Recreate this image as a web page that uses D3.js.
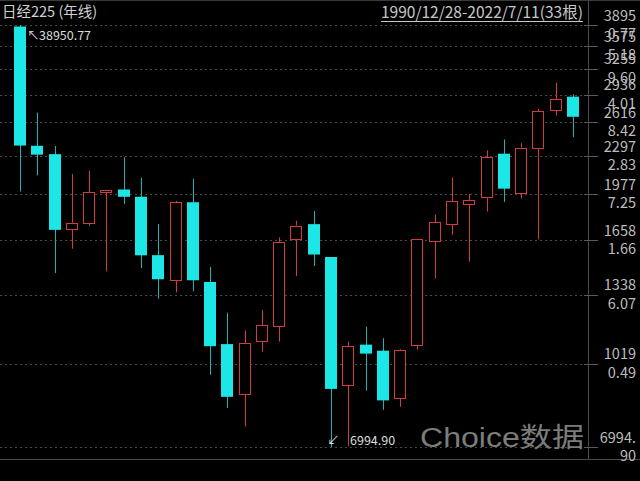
<!DOCTYPE html>
<html><head><meta charset="utf-8">
<script src="https://cdn.jsdelivr.net/npm/d3@7"></script>
<style>html,body{margin:0;padding:0;background:#000;}svg{display:block;}</style>
</head><body>
<svg id="chart" width="640" height="481"></svg>
<script>
// ---------- data ----------
const years = [1990,1991,1992,1993,1994,1995,1996,1997,1998,1999,2000,2001,2002,2003,2004,2005,2006,2007,2008,2009,2010,2011,2012,2013,2014,2015,2016,2017,2018,2019,2020,2021,2022];
const opens  = [38712.88,23827.98,23030.54,16980,17421,19724,19945,19364,15268,13779,18937,13691,10631,8669,10787,11458,16294,17322,15155,8991,10609,10352,8549,10604,16147,17325,18818,19364,23073,19655,23580,27575,29098];
const highs  = [38950.77,27270.19,23801.18,21242,21530,19900,22750,20910,17333,19036,20833,14556,12081,11238,12213,16420,17563,18275,15156,10738,11413,10891,10433,16320,18030,20952,19592,23382,24448,24091,27700,30795,29388];
const lows   = [19781.70,21123.27,14194.85,15670,17192,14295,18800,14488,12787,13122,13182,9382,8197,7603,10309,10738,14026,14609,6994.90,7021,8796,8135,8238,10398,13885,16592,14864,18224,18948,19241,16280,26954,24681];
const closes = [23848.71,22983.77,16924.95,17417.24,19723.06,19868.15,19361.35,15258.74,13842.17,18934.34,13785.69,10542.62,8578.95,10676.64,11488.76,16111.43,17225.83,15307.78,8859.56,10546.44,10228.92,8455.35,10395.18,16291.31,17450.77,19033.71,19114.37,22764.94,20014.77,23656.62,27444.17,28791.71,26812.30];
// right-axis labels (as printed) and the levels where their dotted grid lines sit
const tickLabels = [38950.77,35755.18,32559.60,29364.01,26168.42,22972.83,19777.25,16581.66,13386.07,10190.49,6994.90];
const gridLevels = [38950.77,35756,32621,29301,26206,22857,19579,16207,12985,9825,6994.90];
const titleText = "日经225 (年线)";
const rangeText = "1990/12/28-2022/7/11(33根)";
const watermarkText = "Choice数据";

// ---------- styling ----------
const W = 640, H = 481;
const FONT = "'Noto Sans CJK SC','Microsoft YaHei',sans-serif";
const UP = "#d23c3c", DOWN = "#1ce6e6", DOWN_WICK = "#1fb4b4";
const axisX = 588, plotBottom = 459;

const svg = d3.select("#chart");
svg.append("rect").attr("width", W).attr("height", H).attr("fill", "#000");

const x = d3.scaleBand().domain(years).range([11.4, 581.6]).paddingInner(0.3).paddingOuter(0.15);
const y = d3.scaleLog().domain([6994.90, 38950.77]).range([447, 25]);
const bw = Math.round(x.bandwidth());

// frame lines
svg.append("line").attr("x1", 0).attr("x2", W).attr("y1", 0.5).attr("y2", 0.5).attr("stroke", "#3a3a3a");
svg.append("line").attr("x1", axisX + 0.5).attr("x2", axisX + 0.5).attr("y1", 0).attr("y2", plotBottom).attr("stroke", "#4a4a4a");
svg.append("line").attr("x1", 0).attr("x2", W).attr("y1", plotBottom + 0.5).attr("y2", plotBottom + 0.5).attr("stroke", "#4a4a4a");

// grid lines
const grid = svg.append("g");
grid.selectAll("line.g").data(gridLevels).join("line")
  .attr("x1", 0).attr("x2", axisX)
  .attr("y1", d => Math.round(y(d)) + 0.5).attr("y2", d => Math.round(y(d)) + 0.5)
  .attr("stroke", "#4a4a4a").attr("stroke-dasharray", "2,3");
grid.selectAll("line.t").data(gridLevels).join("line")
  .attr("x1", axisX - 4).attr("x2", axisX + 10)
  .attr("y1", d => Math.round(y(d)) + 0.5).attr("y2", d => Math.round(y(d)) + 0.5)
  .attr("stroke", "#5a5a5a");

// watermark
svg.append("text").text(watermarkText)
  .attr("x", 420).attr("y", 447)
  .attr("font-family", "'Liberation Sans','Noto Sans CJK SC',sans-serif")
  .attr("font-size", 27).attr("fill", "#7c7c7c")
  .attr("textLength", 164).attr("lengthAdjust", "spacingAndGlyphs");

// candles
const candles = svg.append("g");
years.forEach((yr, i) => {
  const o = opens[i], c = closes[i], h = highs[i], l = lows[i];
  const x0 = Math.round(x(yr));
  const cx = x0 + Math.floor(bw / 2) + 0.5;
  const top = y(Math.max(o, c)), bot = y(Math.min(o, c));
  if (c < o) {
    candles.append("line").attr("x1", cx).attr("x2", cx).attr("y1", y(h)).attr("y2", y(l))
      .attr("stroke", DOWN_WICK).attr("stroke-width", 1);
    candles.append("rect").attr("x", x0).attr("y", top).attr("width", bw).attr("height", Math.max(1, bot - top))
      .attr("fill", DOWN);
  } else {
    candles.append("line").attr("x1", cx).attr("x2", cx).attr("y1", y(h)).attr("y2", top)
      .attr("stroke", UP).attr("stroke-width", 1);
    candles.append("line").attr("x1", cx).attr("x2", cx).attr("y1", bot).attr("y2", y(l))
      .attr("stroke", UP).attr("stroke-width", 1);
    candles.append("rect").attr("x", x0 + 0.5).attr("y", Math.round(top) + 0.5)
      .attr("width", bw - 1).attr("height", Math.max(1, Math.round(bot) - Math.round(top)))
      .attr("fill", "#000").attr("stroke", UP).attr("stroke-width", 1);
  }
});

// extreme annotations
const iMax = d3.maxIndex(highs), iMin = d3.minIndex(lows);
const ann = svg.append("g").attr("font-family", FONT).attr("fill", "#dcdcdc").attr("font-size", 12.5);
const hx = Math.round(x(years[iMax])) + bw;
ann.append("text").text("↖").attr("x", hx + 1).attr("y", y(highs[iMax]) + 14.5);
ann.append("text").text(highs[iMax].toFixed(2)).attr("x", hx + 13).attr("y", y(highs[iMax]) + 14.5);
const lx = Math.round(x(years[iMin])) + bw / 2;
ann.append("text").text("↙").attr("x", lx - 4).attr("y", y(lows[iMin]) - 2);
ann.append("text").text(lows[iMin].toFixed(2)).attr("x", lx + 19).attr("y", y(lows[iMin]) - 2);

// right axis labels, wrapped like the original
const axisG = svg.append("g").attr("font-family", FONT).attr("font-size", 14.5).attr("fill", "#bdbdbd");
const meas = axisG.append("text").attr("x", -100).attr("y", -100);
function splitLabel(s) {
  let line1 = s.slice(0, 1);
  for (let k = 1; k <= s.length; k++) {
    meas.text(s.slice(0, k));
    if (meas.node().getComputedTextLength() <= 37.5) line1 = s.slice(0, k); else break;
  }
  return [line1, s.slice(line1.length)];
}
svg.append("clipPath").attr("id", "axclip").append("rect").attr("x", axisX + 1).attr("y", 0).attr("width", W - axisX).attr("height", 466);
axisG.attr("clip-path", "url(#axclip)");
tickLabels.forEach((v, i) => {
  const gy = y(gridLevels[i]);
  const parts = splitLabel(v.toFixed(2));
  axisG.append("text").text(parts[0]).attr("x", 636).attr("y", gy - 4.5).attr("text-anchor", "end");
  if (parts[1]) axisG.append("text").text(parts[1]).attr("x", 636).attr("y", gy + 14).attr("text-anchor", "end");
});
meas.remove();

// header texts
svg.append("text").text(titleText).attr("x", 2).attr("y", 17)
  .attr("font-family", FONT).attr("font-size", 14.5).attr("fill", "#cfcfcf");
const rt = svg.append("text").text(rangeText).attr("x", 381).attr("y", 18)
  .attr("font-family", FONT).attr("font-size", 15.5).attr("fill", "#c8c8c8");
const rw = rt.node().getComputedTextLength();
svg.append("line").attr("x1", 381).attr("x2", 381 + rw).attr("y1", 21.5).attr("y2", 21.5).attr("stroke", "#c8c8c8");
</script>
</body></html>
